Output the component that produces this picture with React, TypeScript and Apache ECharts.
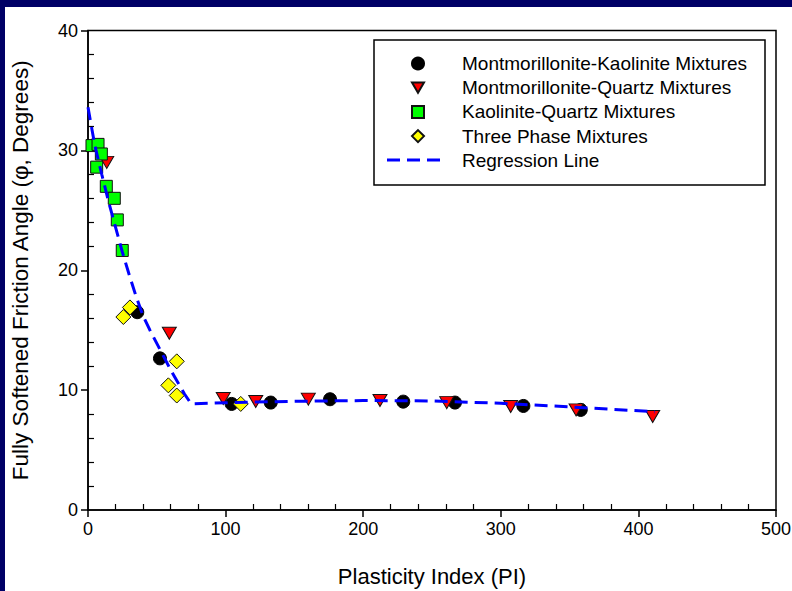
import React, { useEffect, useRef } from "react";
import * as echarts from "echarts";

// Montmorillonite-Kaolinite Mixtures
const mkX = [35.8, 52.3, 104.4, 132.8, 175.9, 229.1, 266.7, 316.4, 358.1];
const mkY = [16.5, 12.65, 8.85, 8.96, 9.24, 9.04, 8.96, 8.68, 8.35];
// Montmorillonite-Quartz Mixtures
const mqX = [13.6, 59.1, 98.3, 121.9, 160.1, 212.2, 260.7, 307.2, 354.7, 410.4];
const mqY = [29.0, 14.75, 9.3, 9.05, 9.25, 9.13, 8.96, 8.63, 8.35, 7.8];
// Kaolinite-Quartz Mixtures
const kqX = [2.9, 7.3, 9.7, 6.3, 13.3, 19.1, 21.3, 24.9];
const kqY = [30.4, 30.5, 29.7, 28.6, 27.0, 26.0, 24.2, 21.65];
// Three Phase Mixtures
const tpX = [25.7, 30.5, 64.5, 58.4, 64.5, 111.0];
const tpY = [16.1, 16.9, 12.4, 10.4, 9.55, 8.85];
// Regression Line
const regX = [0, 2, 5, 10, 15, 20, 25, 30, 35, 40, 45, 50, 55, 60, 65, 70, 75, 100, 150, 200, 250, 300, 350, 412];
const regY = [33.6, 32.3, 30.4, 28.0, 25.7, 23.6, 21.5, 19.6, 17.8, 16.2, 15.0, 13.9, 12.8, 11.7, 10.7, 9.7, 8.85, 8.95, 9.07, 9.13, 9.1, 8.9, 8.6, 8.2];

const seriesNames = [
  "Montmorillonite-Kaolinite Mixtures",
  "Montmorillonite-Quartz Mixtures",
  "Kaolinite-Quartz Mixtures",
  "Three Phase Mixtures",
  "Regression Line",
];

const xTitle = "Plasticity Index (PI)";
const yTitle = "Fully Softened Friction Angle (\u03c6, Degrees)";

const zip = (xs: number[], ys: number[]) => xs.map((x, i) => [x, ys[i]]);

const FONT = "'Liberation Sans', Arial, sans-serif";
const DOWN_TRIANGLE = "path://M0,0L14,0L7,12Z";

export default function App() {
  const ref = useRef<HTMLDivElement>(null);

  useEffect(() => {
    if (!ref.current) return;
    const chart = echarts.init(ref.current, undefined, { renderer: "svg" });
    const axisCommon = {
      type: "value" as const,
      nameLocation: "middle" as const,
      nameTextStyle: { fontSize: 22, color: "#000", fontFamily: FONT },
      axisLine: { show: true, onZero: false, lineStyle: { color: "#000", width: 1.5 } },
      axisTick: { show: true, inside: false, length: 7, lineStyle: { color: "#000", width: 1.5 } },
      minorTick: { show: true, splitNumber: 5, length: -6, lineStyle: { color: "#000", width: 1.2 } },
      splitLine: { show: false },
      minorSplitLine: { show: false },
      axisLabel: { fontSize: 18, color: "#000", fontFamily: FONT, margin: 10 },
    };
    chart.setOption({
      animation: false,
      textStyle: { fontFamily: FONT },
      grid: {
        left: 88,
        right: 16,
        top: 30.5,
        bottom: 81,
        show: true,
        borderColor: "#000",
        borderWidth: 1.5,
        backgroundColor: "transparent",
        containLabel: false,
        outerBoundsMode: "none",
      },
      xAxis: {
        ...axisCommon,
        min: 0,
        max: 500,
        interval: 100,
        name: xTitle,
        nameGap: 55,
      },
      yAxis: {
        ...axisCommon,
        min: 0,
        max: 40,
        interval: 10,
        name: yTitle,
        nameGap: 56,
        nameTextStyle: { fontSize: 22.5, color: "#000", fontFamily: FONT },
      },
      legend: {
        orient: "vertical",
        left: 411,
        top: 54,
        padding: 0,
        itemWidth: 12,
        itemHeight: 12,
        itemGap: 5.2,
        selectedMode: false,
        textStyle: { fontSize: 19, color: "#000", fontFamily: FONT, lineHeight: 19, padding: [0, 0, 0, 33] },
        data: [
          seriesNames[0],
          { name: seriesNames[1], icon: DOWN_TRIANGLE },
          seriesNames[2],
          seriesNames[3],
          { name: seriesNames[4], icon: "none" },
        ],
      },
      graphic: [
        {
          type: "rect",
          shape: { x: 374, y: 40, width: 391, height: 145 },
          style: { fill: "transparent", stroke: "#000", lineWidth: 1.5 },
          z: 10,
        },
        {
          type: "line",
          shape: { x1: 387, y1: 160, x2: 441, y2: 160 },
          style: { stroke: "#0000ff", lineWidth: 3, lineDash: [13, 7] },
          z: 10,
        },
      ],
      series: [
        {
          name: seriesNames[0],
          type: "scatter",
          data: zip(mkX, mkY),
          symbol: "circle",
          symbolSize: 13,
          itemStyle: { color: "#000", borderColor: "#000", borderWidth: 1, opacity: 1 },
          z: 2,
        },
        {
          name: seriesNames[1],
          type: "scatter",
          data: zip(mqX, mqY),
          symbol: "triangle",
          symbolRotate: 180,
          symbolSize: [14, 12],
          itemStyle: { color: "#ff0000", borderColor: "#111", borderWidth: 1, opacity: 1 },
          z: 3,
        },
        {
          name: seriesNames[2],
          type: "scatter",
          data: zip(kqX, kqY),
          symbol: "rect",
          symbolSize: 12,
          itemStyle: { color: "#00ff00", borderColor: "#111", borderWidth: 1, opacity: 1 },
          z: 3,
        },
        {
          name: seriesNames[3],
          type: "scatter",
          data: zip(tpX, tpY),
          symbol: "diamond",
          symbolSize: 15,
          itemStyle: { color: "#ffff00", borderColor: "#111", borderWidth: 1, opacity: 1 },
          z: 4,
        },
        {
          name: seriesNames[4],
          type: "line",
          data: zip(regX, regY),
          symbol: "none",
          showSymbol: false,
          lineStyle: { color: "#0000ff", width: 3, type: [13, 7] },
          itemStyle: { color: "#0000ff", borderWidth: 0 },
          z: 5,
        },
      ],
    });
    return () => chart.dispose();
  }, []);

  return (
    <div style={{ position: "absolute", left: 0, top: 0, width: 792, height: 591, background: "#000066", overflow: "hidden" }}>
      <div style={{ position: "absolute", left: 5, top: 7, right: 0, bottom: 0, background: "#fff" }} />
      <div ref={ref} style={{ position: "absolute", left: 0, top: 0, width: 792, height: 591 }} />
    </div>
  );
}
